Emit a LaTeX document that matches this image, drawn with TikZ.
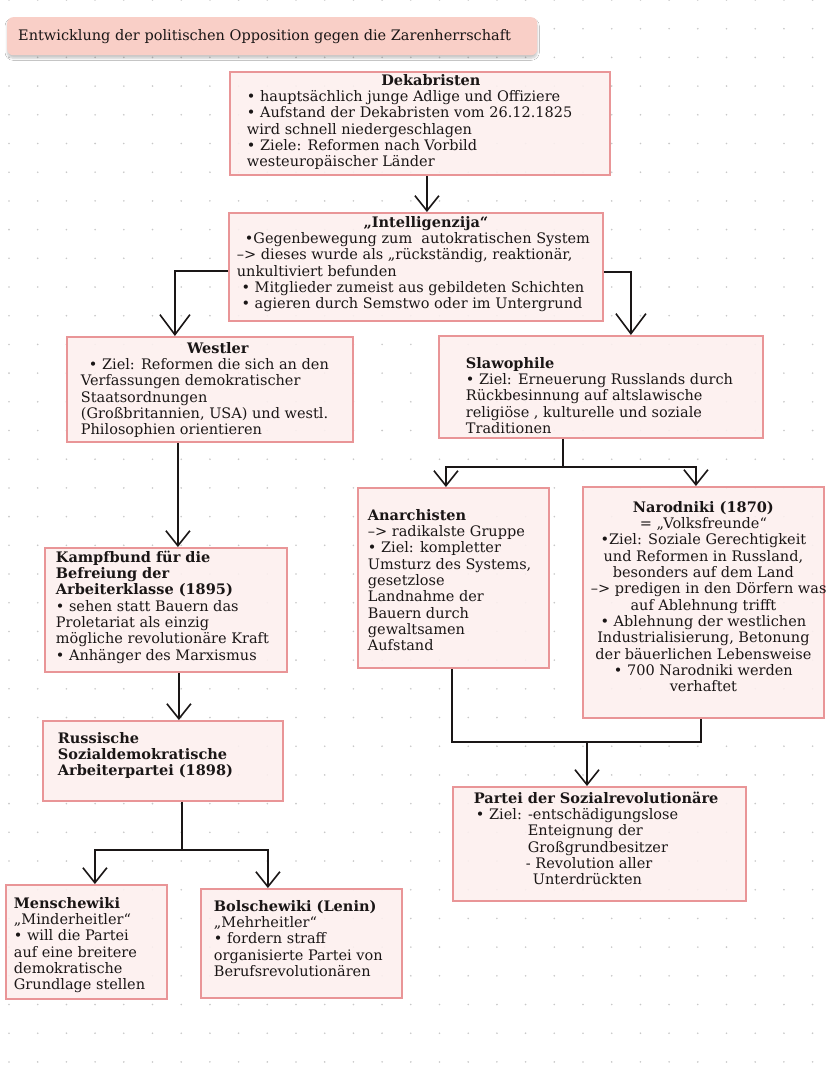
\documentclass[tikz,border=0pt]{standalone}
\usepackage{fontspec}
\setmainfont{DejaVu Serif}
\usetikzlibrary{arrows.meta,shadows.blur}
\definecolor{boxfill}{HTML}{FDF0EF}
\definecolor{boxline}{HTML}{E99597}
\definecolor{titlefill}{HTML}{F9CFC7}
\definecolor{ink}{HTML}{1A1616}
\definecolor{dotc}{HTML}{C8C8C8}
\newcommand{\bt}[3]{\parbox[c][#2][t]{#1}{\fontsize{14.5}{16.3}\selectfont\raggedright\strut#3}}
\tikzset{
  box/.style={draw=boxline, fill=boxfill, fill opacity=0.88, text opacity=1, line width=1.8pt,
    inner sep=0pt, anchor=north west, text=ink},
  titlebox/.style={fill=titlefill, rounded corners=6pt, inner sep=0pt, anchor=north west, text=ink,
    blur shadow={shadow xshift=0pt, shadow yshift=-3pt, shadow opacity=22, shadow blur steps=6}},
  conn/.style={draw=ink, line width=1.8pt},
  arr/.style={conn, -{Straight Barb[length=15pt,width=24pt,line width=1.6pt]}},
  bigarr/.style={conn, -{Straight Barb[length=20pt,width=30pt,line width=1.6pt]}}
}
\begin{document}
\begin{tikzpicture}[x=1pt,y=-1pt]
\useasboundingbox (0,0) rectangle (828,1070);
\fill[white] (0,0) rectangle (828,1070);
\foreach \i in {0,...,28} \foreach \j in {0,...,37} \fill[dotc] (9+\i*28.7,\j*28.7) circle (0.9pt);

\node[titlebox, minimum width=530pt, minimum height=38pt] (title) at (7,17)
  {\parbox{508pt}{\fontsize{14.5}{16.3}\selectfont Entwicklung der politischen Opposition gegen die Zarenherrschaft}};

\node[box, minimum width=380pt, minimum height=103pt] (dek) at (229,71)
  {\bt{346pt}{99pt}{{\centering\hspace*{22pt}\textbf{Dekabristen}\par}%
   \mbox{• hauptsächlich junge Adlige und Offiziere}\\
   \mbox{• Aufstand der Dekabristen vom 26.12.1825}\\
   \mbox{wird schnell niedergeschlagen}\\
   \mbox{• Ziele: Reformen nach Vorbild}\\
   \mbox{westeuropäischer Länder}}};

\node[box, minimum width=374pt, minimum height=108pt] (int) at (228,212)
  {\bt{358pt}{102pt}{{\centering\hspace*{20pt}\textbf{„Intelligenzija“}\par}%
   \hspace*{8pt}\mbox{•Gegenbewegung zum\ \ autokratischen System}\\
   \mbox{–> dieses wurde als „rückständig, reaktionär,}\\
   \mbox{unkultiviert befunden}\\
   \mbox{ • Mitglieder zumeist aus gebildeten Schichten}\\
   \mbox{ • agieren durch Semstwo oder im Untergrund}}};

\node[box, minimum width=286pt, minimum height=105pt] (west) at (66,336)
  {\bt{258pt}{95pt}{{\centering\hspace*{16pt}\textbf{Westler}\par}%
   \hspace*{8pt}\mbox{• Ziel: Reformen die sich an den}\\
   \mbox{Verfassungen demokratischer}\\
   \mbox{Staatsordnungen}\\
   \mbox{(Großbritannien, USA) und westl.}\\
   \mbox{Philosophien orientieren}}};

\node[box, minimum width=324pt, minimum height=102pt] (slaw) at (438,335)
  {\bt{270pt}{60pt}{\textbf{Slawophile}\\
   \mbox{• Ziel: Erneuerung Russlands durch}\\
   \mbox{Rückbesinnung auf altslawische}\\
   \mbox{religiöse , kulturelle und soziale}\\
   \mbox{Traditionen}}};

\node[box, minimum width=242pt, minimum height=124pt] (kampf) at (44,547)
  {\bt{220pt}{118pt}{\textbf{Kampfbund für die}\\
   \textbf{Befreiung der}\\
   \textbf{Arbeiterklasse (1895)}\\
   \mbox{• sehen statt Bauern das}\\
   \mbox{Proletariat als einzig}\\
   \mbox{mögliche revolutionäre Kraft}\\
   \mbox{• Anhänger des Marxismus}}};

\node[box, minimum width=240pt, minimum height=80pt] (russ) at (42,720)
  {\bt{210pt}{58pt}{\textbf{Russische}\\
   \textbf{Sozialdemokratische}\\
   \textbf{Arbeiterpartei (1898)}}};

\node[box, minimum width=191pt, minimum height=180pt] (anar) at (357,487)
  {\bt{171pt}{138pt}{\textbf{Anarchisten}\\
   \mbox{–> radikalste Gruppe}\\
   \mbox{• Ziel: kompletter}\\
   \mbox{Umsturz des Systems,}\\
   \mbox{gesetzlose}\\
   \mbox{Landnahme der}\\
   \mbox{Bauern durch}\\
   \mbox{gewaltsamen}\\
   \mbox{Aufstand}}};

\node[box, minimum width=241pt, minimum height=231pt] (narod) at (582,486)
  {\bt{225pt}{203pt}{\centering\textbf{Narodniki (1870)}\\
   \mbox{= „Volksfreunde“}\\
   \mbox{•Ziel: Soziale Gerechtigkeit}\\
   \mbox{und Reformen in Russland,}\\
   \mbox{besonders auf dem Land}\\
   \mbox{–> predigen in den Dörfern was}\\
   \mbox{auf Ablehnung trifft}\\
   \mbox{• Ablehnung der westlichen}\\
   \mbox{Industrialisierung, Betonung}\\
   \mbox{der bäuerlichen Lebensweise}\\
   \mbox{• 700 Narodniki werden}\\
   \mbox{verhaftet}}};

\node[box, minimum width=293pt, minimum height=114pt] (partei) at (452,786)
  {\bt{251pt}{104pt}{\textbf{Partei der Sozialrevolutionäre}\\
   \hspace*{2pt}\mbox{• Ziel: -entschädigungslose}\\
   \hspace*{54pt}\mbox{Enteignung der}\\
   \hspace*{54pt}\mbox{Großgrundbesitzer}\\
   \hspace*{52pt}\mbox{- Revolution aller}\\
   \hspace*{59pt}\mbox{Unterdrückten}}};

\node[box, minimum width=161pt, minimum height=114pt] (mensch) at (5,884)
  {\bt{145pt}{90pt}{\textbf{Menschewiki}\\
   \mbox{„Minderheitler“}\\
   \mbox{• will die Partei}\\
   \mbox{auf eine breitere}\\
   \mbox{demokratische}\\
   \mbox{Grundlage stellen}}};

\node[box, minimum width=201pt, minimum height=109pt] (bolsch) at (200,888)
  {\bt{175pt}{87pt}{\textbf{Bolschewiki (Lenin)}\\
   \mbox{„Mehrheitler“}\\
   \mbox{• fordern straff}\\
   \mbox{organisierte Partei von}\\
   \mbox{Berufsrevolutionären}}};

% connectors
\draw[arr] ([xshift=7pt]dek.south) -- ([xshift=7pt]dek.south |- int.north);
\draw[bigarr] ([yshift=-4pt]int.west) -| ([xshift=-35pt]west.north);
\draw[bigarr] ([yshift=-5pt]int.east) -| ([xshift=30pt]slaw.north);
\draw[arr] ([xshift=12pt]kampf.north |- west.south) -- ([xshift=12pt]kampf.north);
\draw[arr] ([xshift=16pt]russ.north |- kampf.south) -- ([xshift=16pt]russ.north);

\coordinate (rj) at (182,850);
\draw[conn] (russ.south -| rj) -- (rj);
\draw[arr] (rj) -| ([xshift=8.5pt]mensch.north);
\draw[arr] (rj) -| ([xshift=-33.5pt]bolsch.north);

\coordinate (sj) at (563,467);
\draw[conn] (slaw.south -| sj) -- (sj);
\draw[arr] (sj) -| ([xshift=-7.5pt]anar.north);
\draw[arr] (sj) -| ([xshift=-7.5pt]narod.north);

\coordinate (pj) at (587,742);
\draw[conn] ([xshift=-1.5pt]anar.south) |- (pj) -| ([xshift=-2.5pt]narod.south);
\draw[arr] (pj) -- (pj |- partei.north);
\end{tikzpicture}
\end{document}
